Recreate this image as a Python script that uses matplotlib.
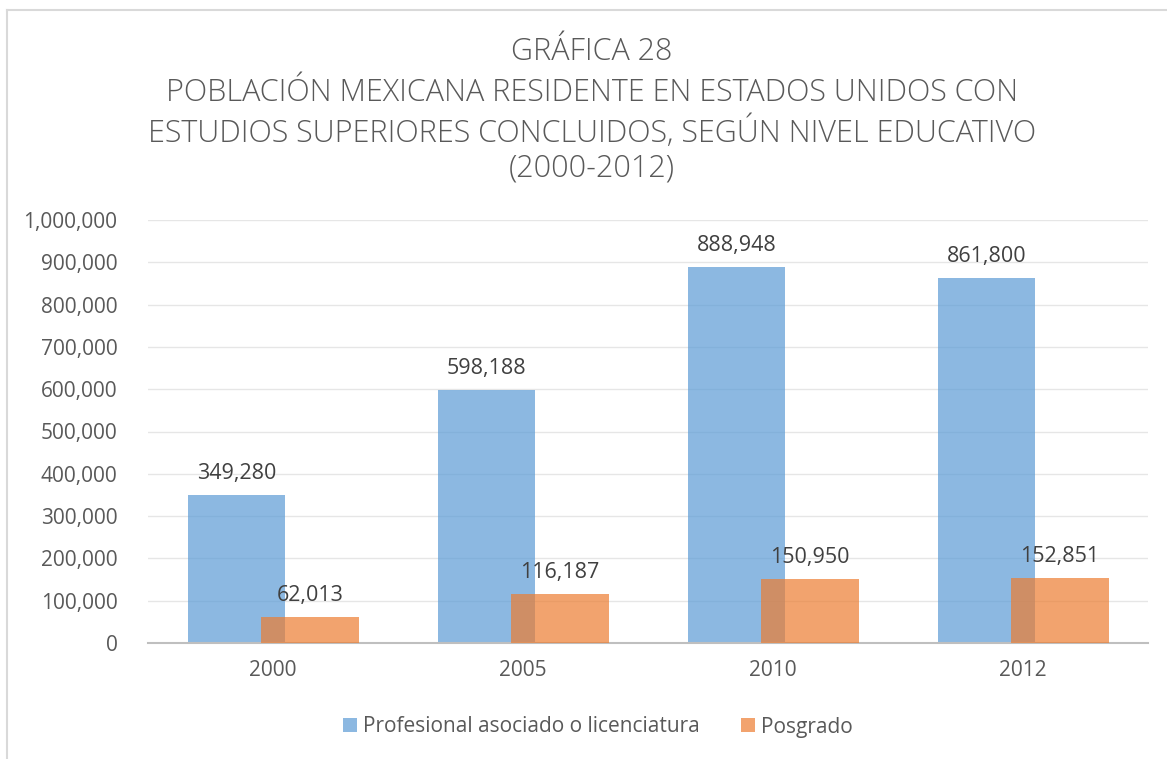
import numpy as np
import matplotlib
matplotlib.use("Agg")
from matplotlib import pyplot as plt
from matplotlib.ticker import FuncFormatter

years = ["2000", "2005", "2010", "2012"]
licenciatura = [349280, 598188, 888948, 861800]
posgrado = [62013, 116187, 150950, 152851]
series_names = ["Profesional asociado o licenciatura", "Posgrado"]

plt.rcParams['font.family'] = ['Open Sans', 'DejaVu Sans']

fig = plt.figure(figsize=(11.67, 7.59), dpi=100)
fig.patch.set_facecolor("white")
ax = fig.add_axes([148/1167, 1-643/759, 1000/1167, 423/759])

x = np.arange(len(years))
w = 0.39
off = 0.147
txt = "#404040"
b1 = ax.bar(x - off, licenciatura, w, color="#5B9BD5", alpha=0.7, label=series_names[0], zorder=2)
b2 = ax.bar(x + off, posgrado, w, color="#ED7D31", alpha=0.7, label=series_names[1], zorder=3)

for xi, v in zip(x - off, licenciatura):
    ax.text(xi, v + 38000, f"{v:,}", ha="center", va="baseline", fontsize=15.5, color=txt)
for xi, v in zip(x + off, posgrado):
    ax.text(xi, v + 38000, f"{v:,}", ha="center", va="baseline", fontsize=15.5, color=txt)

ax.set_xlim(-0.5, 3.5)
ax.set_ylim(0, 1000000)
ax.set_yticks(np.arange(0, 1000001, 100000))
ax.yaxis.set_major_formatter(FuncFormatter(lambda v, p: f"{int(v):,}"))
ax.set_xticks(x)
ax.set_xticklabels(years)
ax.tick_params(axis="both", length=0, labelsize=15, labelcolor="#595959")
ax.tick_params(axis="y", pad=22)
ax.tick_params(axis="x", pad=12)
ax.grid(axis="y", color="#e6e6e6", linewidth=1, zorder=0)
ax.set_axisbelow(True)
for s in ["top", "right", "left"]:
    ax.spines[s].set_visible(False)
ax.spines["bottom"].set_color("#bfbfbf")
ax.spines["bottom"].set_linewidth(1.5)

title_lines = ["GRÁFICA 28",
               "POBLACIÓN MEXICANA RESIDENTE EN ESTADOS UNIDOS CON",
               "ESTUDIOS SUPERIORES CONCLUIDOS, SEGÚN NIVEL EDUCATIVO",
               "(2000-2012)"]
ys = [60, 101, 142, 177]
for t, yy in zip(title_lines, ys):
    fig.text(592/1167, 1 - yy/759, t, ha="center", va="baseline", fontsize=22,
             color="#595959", fontweight="light")

leg = fig.legend(handles=[b1, b2], labels=series_names, loc="center",
                 bbox_to_anchor=(598/1167, 1 - 727/759), ncol=2, frameon=False,
                 fontsize=15, handlelength=0.65, handleheight=0.65,
                 handletextpad=0.3, columnspacing=2.0)
for t in leg.get_texts():
    t.set_color("#595959")

# chart frame
fig.add_artist(plt.Line2D([7/1167, 7/1167], [0, 1 - 10/759], transform=fig.transFigure, color="#d9d9d9", lw=1.5))
fig.add_artist(plt.Line2D([7/1167, 1], [1 - 10/759, 1 - 10/759], transform=fig.transFigure, color="#d9d9d9", lw=1.5))

fig.savefig("out.png", dpi=100, facecolor="white")
